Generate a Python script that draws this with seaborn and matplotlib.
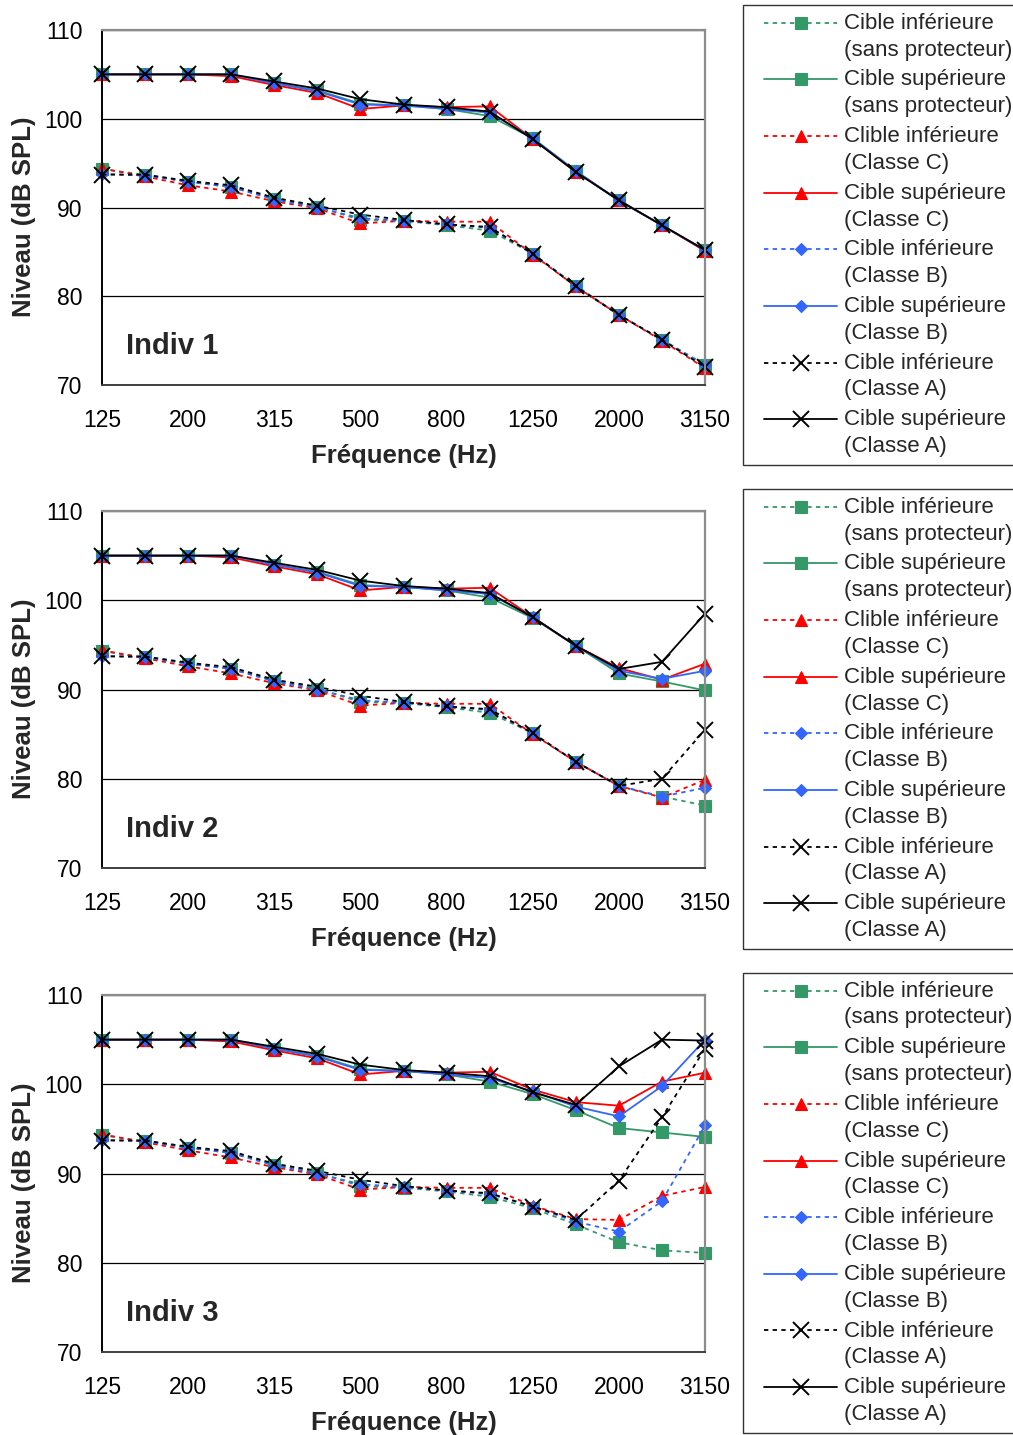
import matplotlib
matplotlib.use("Agg")
import matplotlib.pyplot as plt
import numpy as np
import pandas as pd
import seaborn as sns
from matplotlib.legend_handler import HandlerLine2D
from matplotlib.lines import Line2D

# --- data (dB SPL) ---
freqs = ["125", "160", "200", "250", "315", "400", "500", "630",
         "800", "1000", "1250", "1600", "2000", "2500", "3150"]

series = ["inf_sans", "sup_sans", "inf_C", "sup_C", "inf_B", "sup_B", "inf_A", "sup_A"]
series_labels = [
    "Cible inférieure\n(sans protecteur)",
    "Cible supérieure\n(sans protecteur)",
    "Clible inférieure\n(Classe C)",
    "Cible supérieure\n(Classe C)",
    "Cible inférieure\n(Classe B)",
    "Cible supérieure\n(Classe B)",
    "Cible inférieure\n(Classe A)",
    "Cible supérieure\n(Classe A)",
]
panel_titles = ["Indiv 1", "Indiv 2", "Indiv 3"]

# Indiv 1
indiv1_inf_sans = [94.3, 93.7, 92.9, 92.3, 91.0, 90.1, 88.6, 88.5, 88.0, 87.4, 84.8, 81.1, 77.9, 75.1, 72.3]
indiv1_sup_sans = [105, 105, 105, 105, 104.0, 103.2, 101.7, 101.5, 101.1, 100.3, 97.8, 94.1, 90.8, 88.0, 85.2]
indiv1_inf_C = [94.4, 93.5, 92.5, 91.8, 90.7, 89.9, 88.2, 88.5, 88.4, 88.4, 84.7, 81.1, 77.9, 75.0, 71.9]
indiv1_sup_C = [105, 105, 105, 104.8, 103.8, 102.9, 101.1, 101.5, 101.3, 101.4, 97.7, 94.0, 90.8, 88.0, 85.1]
indiv1_inf_B = [93.8, 93.6, 92.9, 92.3, 90.9, 90.0, 88.8, 88.5, 88.1, 87.7, 84.8, 81.2, 77.9, 75.1, 72.2]
indiv1_sup_B = [105, 105, 105, 105, 104.0, 103.1, 101.6, 101.5, 101.1, 100.7, 97.8, 94.1, 90.8, 88.0, 85.2]
indiv1_inf_A = [93.7, 93.7, 93.0, 92.5, 91.1, 90.2, 89.2, 88.6, 88.1, 87.8, 84.8, 81.1, 77.9, 75.1, 72.0]
indiv1_sup_A = [105, 105, 105, 105, 104.2, 103.4, 102.2, 101.6, 101.3, 100.8, 97.7, 94.0, 90.8, 88.0, 85.2]

# Indiv 2
indiv2_inf_sans = [94.3, 93.6, 92.9, 92.3, 91.0, 90.1, 88.6, 88.5, 88.0, 87.4, 85.1, 81.9, 79.2, 78.0, 77.0]
indiv2_sup_sans = [105, 105, 105, 105, 104.0, 103.2, 101.7, 101.5, 101.1, 100.3, 98.0, 94.9, 91.8, 90.9, 89.9]
indiv2_inf_C = [94.4, 93.5, 92.6, 91.8, 90.7, 89.9, 88.2, 88.5, 88.4, 88.4, 85.0, 81.9, 79.2, 77.9, 79.9]
indiv2_sup_C = [105, 105, 105, 104.8, 103.8, 102.9, 101.1, 101.5, 101.3, 101.4, 98.1, 94.9, 92.4, 91.1, 92.9]
indiv2_inf_B = [93.8, 93.6, 92.9, 92.3, 90.9, 90.0, 88.8, 88.5, 88.1, 87.7, 85.1, 81.9, 79.2, 78.0, 79.0]
indiv2_sup_B = [105, 105, 105, 105, 104.0, 103.1, 101.6, 101.5, 101.1, 100.7, 98.1, 94.9, 92.1, 91.2, 92.1]
indiv2_inf_A = [93.7, 93.7, 93.0, 92.5, 91.1, 90.3, 89.3, 88.6, 88.1, 87.8, 85.1, 81.9, 79.2, 80.0, 85.5]
indiv2_sup_A = [105, 105, 105, 105, 104.2, 103.4, 102.2, 101.6, 101.3, 100.8, 98.1, 94.9, 92.3, 93.1, 98.5]

# Indiv 3
indiv3_inf_sans = [94.3, 93.6, 92.9, 92.3, 91.0, 90.1, 88.6, 88.4, 88.0, 87.4, 86.1, 84.3, 82.3, 81.4, 81.1]
indiv3_sup_sans = [105, 105, 105, 105, 104.0, 103.2, 101.7, 101.5, 101.1, 100.3, 98.9, 97.1, 95.1, 94.6, 94.1]
indiv3_inf_C = [94.4, 93.5, 92.6, 91.8, 90.7, 89.9, 88.2, 88.5, 88.4, 88.4, 86.4, 84.9, 84.8, 87.5, 88.5]
indiv3_sup_C = [105, 105, 105, 104.8, 103.8, 102.9, 101.1, 101.5, 101.3, 101.4, 99.4, 98.0, 97.6, 100.3, 101.3]
indiv3_inf_B = [93.8, 93.6, 92.9, 92.3, 90.9, 90.0, 88.8, 88.5, 88.1, 87.7, 86.3, 84.6, 83.5, 86.9, 95.4]
indiv3_sup_B = [105, 105, 105, 105, 104.0, 103.1, 101.6, 101.5, 101.1, 100.7, 99.2, 97.5, 96.4, 99.8, 105.0]
indiv3_inf_A = [93.7, 93.7, 93.0, 92.5, 91.1, 90.3, 89.3, 88.6, 88.1, 87.8, 86.3, 84.8, 89.2, 96.3, 104.0]
indiv3_sup_A = [105, 105, 105, 105, 104.2, 103.4, 102.2, 101.6, 101.3, 100.9, 99.1, 97.7, 102.0, 105.0, 104.9]

panels = [
    [indiv1_inf_sans, indiv1_sup_sans, indiv1_inf_C, indiv1_sup_C,
     indiv1_inf_B, indiv1_sup_B, indiv1_inf_A, indiv1_sup_A],
    [indiv2_inf_sans, indiv2_sup_sans, indiv2_inf_C, indiv2_sup_C,
     indiv2_inf_B, indiv2_sup_B, indiv2_inf_A, indiv2_sup_A],
    [indiv3_inf_sans, indiv3_sup_sans, indiv3_inf_C, indiv3_sup_C,
     indiv3_inf_B, indiv3_sup_B, indiv3_inf_A, indiv3_sup_A],
]

rows = []
for p, vals in enumerate(panels):
    for s, v in zip(series, vals):
        for i, f in enumerate(freqs):
            rows.append({"panel": p, "serie": s, "freq": f, "pos": i, "niveau": v[i]})
df = pd.DataFrame(rows)

# --- styles ---
colors = {"sans": "#339966", "C": "#ff0000", "B": "#3366ff", "A": "#000000"}
markers = {"sans": "s", "C": "^", "B": "D", "A": "x"}
msizes = {"sans": 8.5, "C": 9, "B": 6.3, "A": 12}


class FirstLineHandler(HandlerLine2D):
    """legend handle aligned with the first line of a 2-line label"""

    def __init__(self, dy=0.0, xpad=0.0, **kw):
        super().__init__(**kw)
        self.dy = dy
        self.xpad = xpad

    def create_artists(self, legend, orig_handle, xdescent, ydescent,
                       width, height, fontsize, trans):
        arts = super().create_artists(legend, orig_handle, xdescent, ydescent,
                                      width, height, fontsize, trans)
        for a in arts:
            x = np.asarray(a.get_xdata(), float)
            y = np.asarray(a.get_ydata(), float)
            a.set_xdata(np.linspace(x[0] + self.xpad * fontsize, x[-1], len(x)))
            a.set_ydata(y + self.dy * fontsize)
        return arts


sns.set_theme(style="white")
plt.rcParams["font.family"] = ["Liberation Sans", "DejaVu Sans"]

fig = plt.figure(figsize=(10.13, 14.35), dpi=100)

ax_rects = [
    [0.1007, 0.7317, 0.5953, 0.2474],
    [0.1007, 0.3951, 0.5953, 0.2488],
    [0.1007, 0.0578, 0.5953, 0.2488],
]
leg_anchor_y = [0.9965, 0.6592, 0.3220]

for p in range(3):
    ax = fig.add_axes(ax_rects[p])
    sub = df[df["panel"] == p]
    for s in series:
        kind = s.split("_")[1]
        d = sub[sub["serie"] == s]
        ls = (0, (2.4, 2.4)) if s.startswith("inf") else "-"
        sns.lineplot(data=d, x="pos", y="niveau", ax=ax, color=colors[kind],
                     marker=markers[kind], markersize=msizes[kind],
                     markeredgecolor=colors[kind],
                     markeredgewidth=1.4 if kind == "A" else 0.8,
                     linestyle=ls, linewidth=1.3, errorbar=None,
                     clip_on=False, legend=False)

    ax.set_xlim(0, len(freqs) - 1)
    ax.set_ylim(70, 110)
    ax.set_xticks(range(len(freqs)))
    ax.set_xticklabels([f if i % 2 == 0 else "" for i, f in enumerate(freqs)])
    ax.set_yticks([70, 80, 90, 100, 110])
    ax.tick_params(axis="both", direction="out", length=5, width=1,
                   colors="black", labelsize=16.5)
    ax.tick_params(axis="x", pad=12)
    ax.tick_params(axis="y", pad=9)
    ax.yaxis.grid(True, color="black", linewidth=0.9)
    ax.xaxis.grid(False)

    for side in ["top", "right"]:
        ax.spines[side].set_color("#8c8c8c")
        ax.spines[side].set_linewidth(1.6)
    ax.spines["left"].set_color("black")
    ax.spines["left"].set_linewidth(1.4)
    ax.spines["bottom"].set_color("#404040")
    ax.spines["bottom"].set_linewidth(1.4)
    for sp in ax.spines.values():
        sp.set_zorder(3)

    ax.set_xlabel("Fréquence (Hz)", fontsize=18.5, fontweight="bold")
    ax.set_ylabel("Niveau (dB SPL)", fontsize=18.5, fontweight="bold")
    ax.xaxis.set_label_coords(0.5, -0.2)
    ax.xaxis.label.set_va("center")
    ax.yaxis.set_label_coords(-0.129, 0.475)
    ax.yaxis.label.set_va("center")

    ax.text(0.04, 0.11, panel_titles[p], transform=ax.transAxes,
            fontsize=21, fontweight="bold", ha="left", va="center")

    handles = list(ax.lines[:len(series)])
    leg = ax.legend(handles, series_labels, loc="upper left",
                    bbox_to_anchor=(0.7335, leg_anchor_y[p]),
                    bbox_transform=fig.transFigure,
                    fontsize=16, frameon=True, fancybox=False, shadow=False,
                    borderpad=0.35, labelspacing=0.4, handlelength=3.9,
                    handletextpad=0.3, borderaxespad=0, numpoints=1,
                    handler_map={Line2D: FirstLineHandler(dy=0.64, xpad=0.58)})
    leg.get_frame().set_edgecolor("black")
    leg.get_frame().set_linewidth(1.0)
    for t in leg.get_texts():
        t.set_linespacing(1.36)

fig.savefig("out.png", dpi=100)
